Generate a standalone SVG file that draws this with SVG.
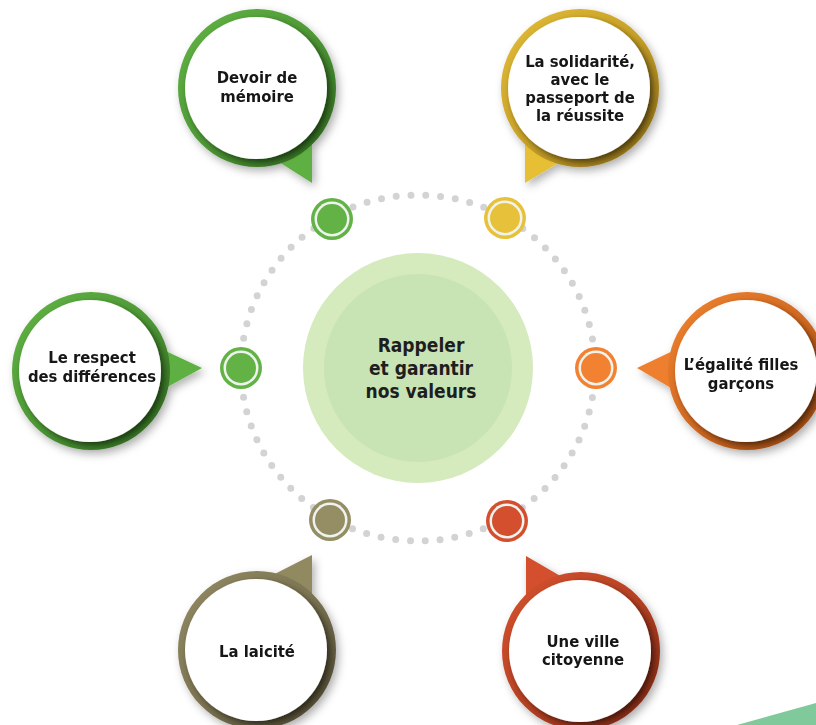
<svg xmlns="http://www.w3.org/2000/svg" width="816" height="725" viewBox="0 0 816 725">
  <defs>
    <filter id="outerSh" x="-30%" y="-30%" width="160%" height="160%">
      <feDropShadow dx="3" dy="4" stdDeviation="4" flood-color="#000" flood-opacity="0.3"/>
    </filter>
    <filter id="innerSh" x="-30%" y="-30%" width="160%" height="160%">
      <feDropShadow dx="3" dy="3" stdDeviation="3" flood-color="#000" flood-opacity="0.55"/>
    </filter>
    <linearGradient id="gGreen" x1="0" y1="0" x2="1" y2="1">
      <stop offset="0" stop-color="#62b446"/>
      <stop offset="0.5" stop-color="#4f9a36"/>
      <stop offset="1" stop-color="#2c641d"/>
    </linearGradient>
    <linearGradient id="gGold" x1="0" y1="0" x2="1" y2="1">
      <stop offset="0" stop-color="#e2bc36"/>
      <stop offset="0.5" stop-color="#c9a228"/>
      <stop offset="1" stop-color="#846614"/>
    </linearGradient>
    <linearGradient id="gOrange" x1="0" y1="0" x2="1" y2="1">
      <stop offset="0" stop-color="#f08330"/>
      <stop offset="0.5" stop-color="#d46a22"/>
      <stop offset="1" stop-color="#8e420f"/>
    </linearGradient>
    <linearGradient id="gOlive" x1="0" y1="0" x2="1" y2="1">
      <stop offset="0" stop-color="#938b64"/>
      <stop offset="0.5" stop-color="#7c7452"/>
      <stop offset="1" stop-color="#48422c"/>
    </linearGradient>
    <linearGradient id="gRed" x1="0" y1="0" x2="1" y2="1">
      <stop offset="0" stop-color="#d6522f"/>
      <stop offset="0.5" stop-color="#b84224"/>
      <stop offset="1" stop-color="#772512"/>
    </linearGradient>
  </defs>
  <style>
    .lbl { font-family: "DejaVu Sans Condensed", "DejaVu Sans", "Liberation Sans", sans-serif; font-stretch: condensed; font-weight: bold; font-size: 16.5px; fill: #151515; text-anchor: middle; }
    .ctr { font-family: "DejaVu Sans Condensed", "DejaVu Sans", "Liberation Sans", sans-serif; font-stretch: condensed; font-weight: bold; font-size: 19px; fill: #1e1e1e; text-anchor: middle; }
    .white { fill: #ffffff; }
    .ring-dots { fill: none; stroke: #d3d3d6; stroke-width: 7; stroke-linecap: round; stroke-dasharray: 0 14.86; }
    .mk-white { fill: #eef3ee; }
  </style>

  <rect width="816" height="725" fill="#ffffff"/>

  <!-- decorative corner -->
  <polygon points="737,725 816,703 816,725" fill="#80c99a"/>

  <!-- center -->
  <g id="center">
    <circle cx="418" cy="368" r="115" fill="#d5eabd"/>
    <circle cx="418" cy="368" r="94" fill="#c9e4b4"/>
    <text class="ctr" x="421" y="352">Rappeler</text>
    <text class="ctr" x="421" y="375">et garantir</text>
    <text class="ctr" x="421" y="398">nos valeurs</text>
  </g>

  <!-- connectors: dotted ring and markers -->
  <g id="connectors">
    <ellipse class="ring-dots" cx="418" cy="368" rx="177" ry="173"/>
    <g id="mk-devoir">
      <circle cx="332" cy="219" r="21" fill="#62b246"/>
      <circle class="mk-white" cx="332" cy="219" r="17.5"/>
      <circle cx="332" cy="219" r="15" fill="#62b246"/>
    </g>
    <g id="mk-solidarite">
      <circle cx="505" cy="218" r="21" fill="#e8c13a"/>
      <circle class="mk-white" cx="505" cy="218" r="17.5"/>
      <circle cx="505" cy="218" r="15" fill="#e8c13a"/>
    </g>
    <g id="mk-egalite">
      <circle cx="596" cy="368" r="21" fill="#f28232"/>
      <circle class="mk-white" cx="596" cy="368" r="17.5"/>
      <circle cx="596" cy="368" r="15" fill="#f28232"/>
    </g>
    <g id="mk-ville">
      <circle cx="507" cy="521" r="21" fill="#d44f2e"/>
      <circle class="mk-white" cx="507" cy="521" r="17.5"/>
      <circle cx="507" cy="521" r="15" fill="#d44f2e"/>
    </g>
    <g id="mk-laicite">
      <circle cx="330" cy="520" r="21" fill="#958d64"/>
      <circle class="mk-white" cx="330" cy="520" r="17.5"/>
      <circle cx="330" cy="520" r="15" fill="#958d64"/>
    </g>
    <g id="mk-respect">
      <circle cx="241" cy="368" r="21" fill="#62b246"/>
      <circle class="mk-white" cx="241" cy="368" r="17.5"/>
      <circle cx="241" cy="368" r="15" fill="#62b246"/>
    </g>
  </g>

  <!-- Devoir de mémoire -->
  <g id="n-devoir" filter="url(#outerSh)">
    <polygon points="312,183 312,130 260,150" fill="#5fb043"/>
    <circle cx="257" cy="88" r="79" fill="url(#gGreen)"/>
    <circle class="white" cx="256" cy="88" r="71" filter="url(#innerSh)"/>
    <text class="lbl" x="257" y="83">Devoir de</text>
    <text class="lbl" x="257" y="102">mémoire</text>
  </g>

  <!-- La solidarité -->
  <g id="n-solidarite" filter="url(#outerSh)">
    <polygon points="525,183 525,130 580,150" fill="#e6bf35"/>
    <circle cx="580" cy="88" r="79" fill="url(#gGold)"/>
    <circle class="white" cx="579" cy="88" r="71" filter="url(#innerSh)"/>
    <text class="lbl" x="580" y="67">La solidarité,</text>
    <text class="lbl" x="580" y="85">avec le</text>
    <text class="lbl" x="580" y="103">passeport de</text>
    <text class="lbl" x="580" y="121">la réussite</text>
  </g>

  <!-- L'égalité filles garçons -->
  <g id="n-egalite" filter="url(#outerSh)">
    <polygon points="637,368 700,338 700,405" fill="#ee7f2e"/>
    <circle cx="747" cy="371" r="79" fill="url(#gOrange)"/>
    <circle class="white" cx="746" cy="371" r="71" filter="url(#innerSh)"/>
    <text class="lbl" x="741" y="370">L’égalité filles</text>
    <text class="lbl" x="741" y="389">garçons</text>
  </g>

  <!-- Le respect des différences -->
  <g id="n-respect" filter="url(#outerSh)">
    <polygon points="202,368 140,339 140,402" fill="#5fb043"/>
    <circle cx="91" cy="371" r="79" fill="url(#gGreen)"/>
    <circle class="white" cx="90" cy="371" r="71" filter="url(#innerSh)"/>
    <text class="lbl" x="92" y="363">Le respect</text>
    <text class="lbl" x="92" y="382">des différences</text>
  </g>

  <!-- La laicité -->
  <g id="n-laicite" filter="url(#outerSh)">
    <polygon points="312,555 312,610 255,584" fill="#918960"/>
    <circle cx="257" cy="650" r="79" fill="url(#gOlive)"/>
    <circle class="white" cx="256" cy="650" r="71" filter="url(#innerSh)"/>
    <text class="lbl" x="257" y="657">La laicité</text>
  </g>

  <!-- Une ville citoyenne -->
  <g id="n-ville" filter="url(#outerSh)">
    <polygon points="526,556 526,610 581,588" fill="#d4502e"/>
    <circle cx="581" cy="651" r="79" fill="url(#gRed)"/>
    <circle class="white" cx="580" cy="651" r="71" filter="url(#innerSh)"/>
    <text class="lbl" x="583" y="647">Une ville</text>
    <text class="lbl" x="583" y="665">citoyenne</text>
  </g>
</svg>
